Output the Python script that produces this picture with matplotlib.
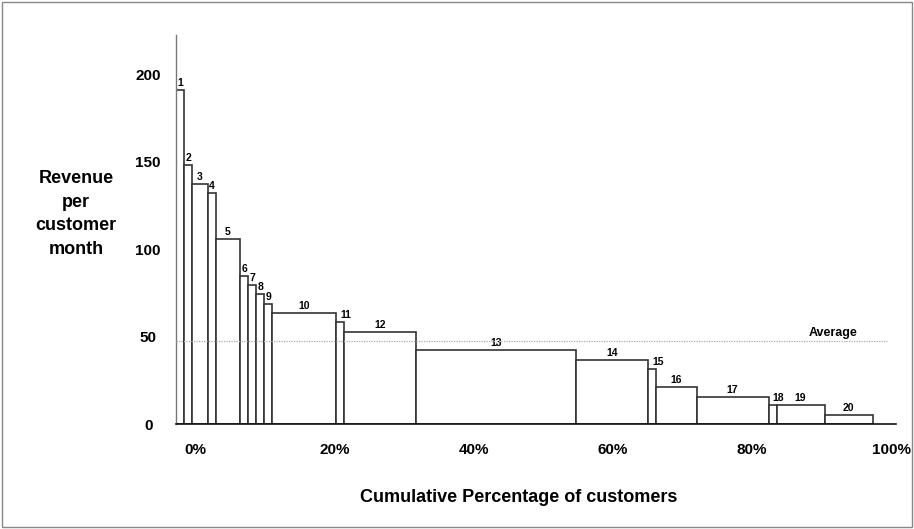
import matplotlib
matplotlib.use('Agg')
import matplotlib.pyplot as plt
import matplotlib.transforms as mtransforms
from matplotlib.patches import Rectangle
import numpy as np

plt.rcParams['font.family'] = ['Liberation Sans', 'DejaVu Sans']
plt.rcParams['font.weight'] = 'bold'

# customer groups: share of customers (%) and revenue per customer month
groups = [str(i) for i in range(1, 21)]
share_pct = [1.15, 1.15, 2.3, 1.15, 3.45, 1.15, 1.15, 1.15, 1.15, 9.2,
             1.15, 10.35, 23.0, 10.35, 1.15, 5.75, 10.35, 1.15, 6.9, 6.9]
revenue = [190.6, 148.2, 137.2, 132.2, 105.8, 84.6, 79.2, 74.2, 68.8, 63.2,
           58.2, 52.8, 42.2, 36.8, 31.5, 21.1, 15.5, 10.6, 10.6, 5.1]
average = 47.4

y_ticks = [0, 50, 100, 150, 200]
x_ticks = [0, 20, 40, 60, 80, 100]
x_tick_labels = ['0%', '20%', '40%', '60%', '80%', '100%']

fig = plt.figure(figsize=(9.14, 5.29), dpi=100)
ax = fig.add_axes([176 / 914, 105 / 529, 720 / 914, 389 / 529])

widths = np.array(share_pct)
lefts = np.concatenate([[0], np.cumsum(widths)[:-1]])
ax.bar(lefts, revenue, width=widths, align='edge', facecolor='white',
       edgecolor='#333333', linewidth=1.2, zorder=2)

for left, w, h, name in zip(lefts, widths, revenue, groups):
    ha = 'left' if (w < 2 and len(name) > 1) else 'center'
    ax.annotate(name, xy=(left + w / 2, h), xytext=(0, 1.5),
                textcoords='offset points', ha=ha, va='bottom',
                fontsize=7.5, fontweight='bold')

# average line, drawn over the bars
ax.plot([0, 102.1], [average, average], color='#aaaaaa', lw=0.9,
        dashes=(1, 1), zorder=3)
ax.annotate('Average', xy=(94.3, average), xytext=(0, 6),
            textcoords='offset points', ha='center', va='center',
            fontsize=9, fontweight='bold')

ax.set_xlim(0, 103.4)
ax.set_ylim(0, 222.3)

ax.spines['top'].set_color('none')
ax.spines['right'].set_color('none')
ax.spines['left'].set_color('#777777')
ax.spines['left'].set_linewidth(1.0)
ax.spines['bottom'].set_color('#111111')
ax.spines['bottom'].set_linewidth(1.2)
ax.spines['bottom'].set_zorder(4)

ax.set_yticks(y_ticks)
ax.set_yticklabels([str(v) for v in y_ticks], fontsize=11, fontweight='bold')
ax.set_xticks(x_ticks)
ax.set_xticklabels(x_tick_labels, fontsize=11, fontweight='bold')
ax.tick_params(axis='y', length=0, pad=20)
ax.tick_params(axis='x', length=0, pad=14)
plt.setp(ax.get_yticklabels(), ha='center')

# tick labels sit a bit right of their marks in the original
shift = mtransforms.ScaledTranslation(19 / 100, 0, fig.dpi_scale_trans)
for lbl in ax.get_xticklabels():
    lbl.set_transform(lbl.get_transform() + shift)

ax.set_ylabel('Revenue\nper\ncustomer\nmonth', rotation=0, fontsize=13,
              fontweight='bold', ha='center', va='center', linespacing=1.5)
ax.yaxis.set_label_coords(-0.139, 0.54)
ax.set_xlabel('Cumulative Percentage of customers', fontsize=13,
              fontweight='bold', va='center')
ax.xaxis.set_label_coords(0.476, -0.189)

fig.patches.append(Rectangle((0.002, 0.004), 0.996, 0.992,
                             transform=fig.transFigure, fill=False,
                             edgecolor='#888888', linewidth=1))

fig.savefig('out.png', dpi=100)
